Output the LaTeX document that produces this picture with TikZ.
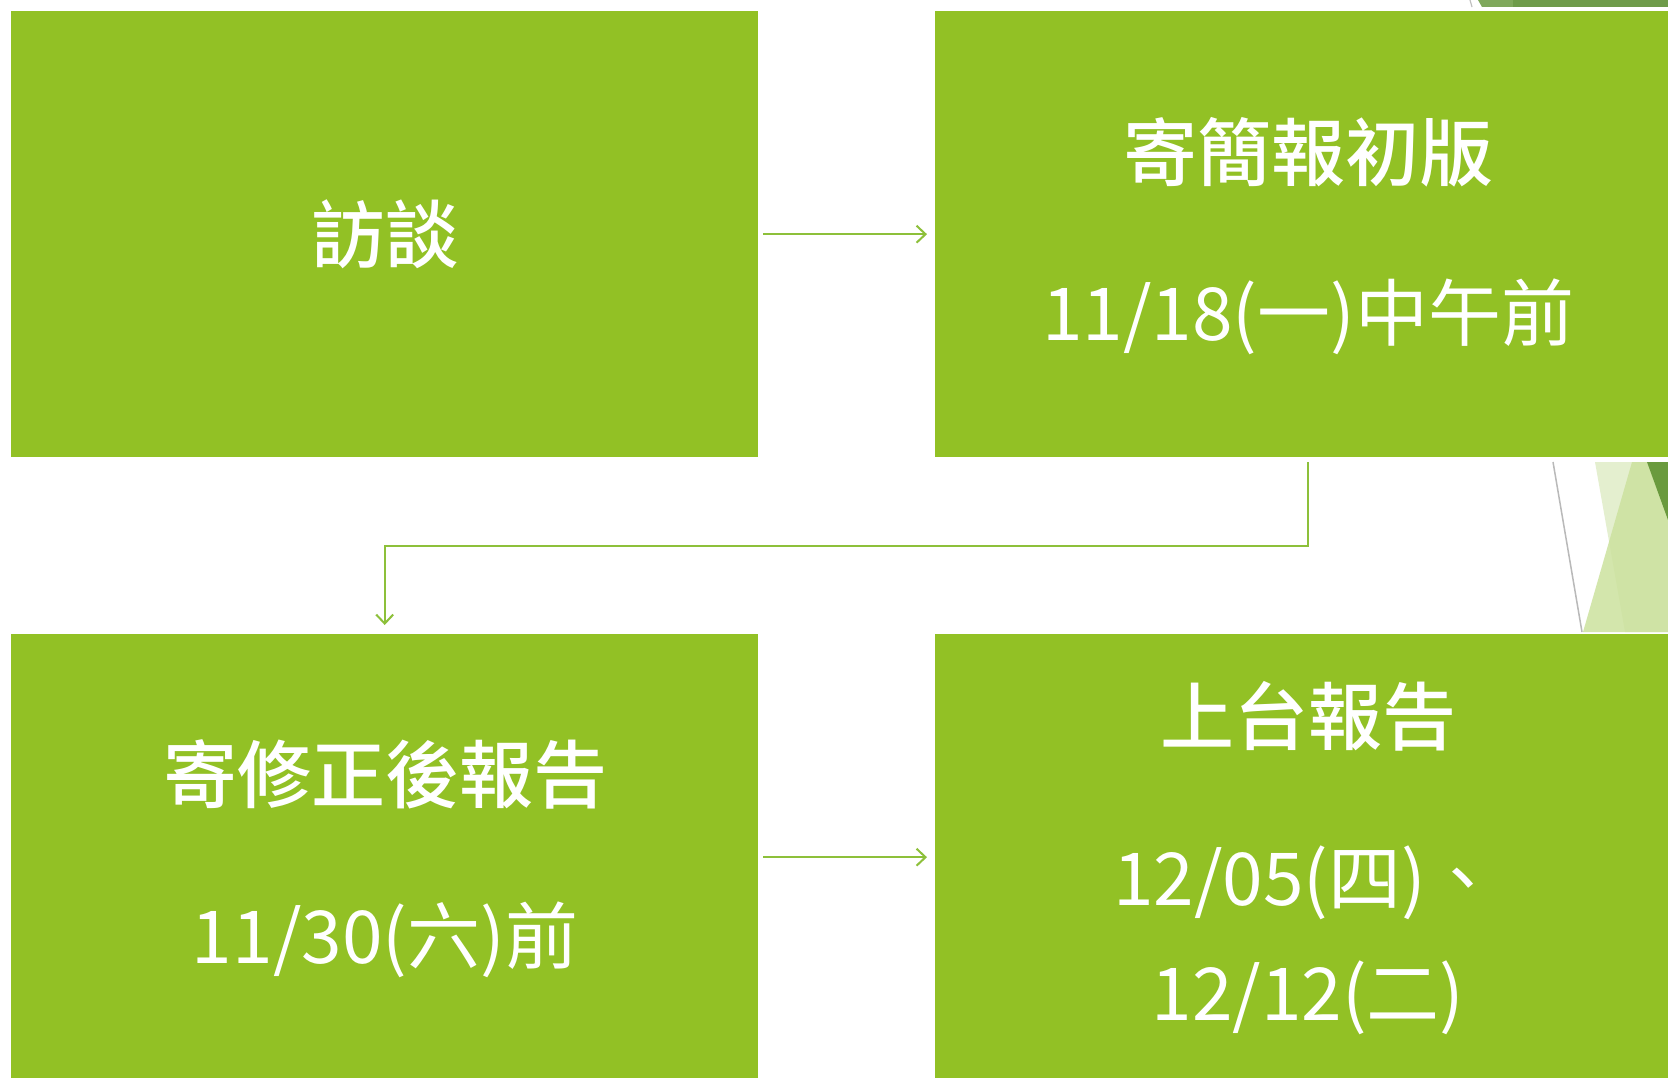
\documentclass[tikz,border=0pt]{standalone}
\usepackage{fontspec}
\setmainfont{Noto Sans CJK TC}
\newfontfamily\titlefont{Noto Sans CJK TC Medium}
\usetikzlibrary{arrows.meta,calc}
\definecolor{boxgreen}{HTML}{92C125}
\definecolor{linegreen}{HTML}{8DC03A}
\definecolor{darkgreen}{HTML}{6E9B4A}
\definecolor{midgreen}{HTML}{7FA85C}
\definecolor{palegreen}{HTML}{E4EFCF}
\definecolor{lightgreen}{HTML}{CCE29E}
\definecolor{deepgreen}{HTML}{6A9A3E}
\tikzset{
  x=1pt, y=1pt,
  box/.style={fill=boxgreen, draw=none, inner sep=0pt, anchor=north west},
  title/.style={text=white, font=\fontsize{74}{88}\titlefont, inner sep=0pt},
  sub/.style={text=white, font=\fontsize{73}{86}\selectfont, inner sep=0pt},
  conn/.style={draw=linegreen, line width=2pt, -{Straight Barb[length=9pt,width=17pt,line width=2pt]}},
}
\begin{document}
\begin{tikzpicture}
\useasboundingbox (0,0) rectangle (1668,-1078);
\clip (0,0) rectangle (1668,-1078);
\fill[white] (0,0) rectangle (1668,-1078);
% decoration
\fill[midgreen] (1478,0) -- (1668,0) -- (1668,-7) -- (1482,-7) -- cycle;
\fill[darkgreen] (1513,0) -- (1668,0) -- (1668,-7) -- (1513,-7) -- cycle;
\draw[gray!50, line width=1.2pt] (1470,0) -- (1472,-7);
\fill[palegreen] (1595,-462) -- (1668,-462) -- (1668,-632) -- (1625,-632) -- cycle;
\fill[lightgreen, opacity=0.85] (1632,-462) -- (1668,-462) -- (1668,-632) -- (1583,-632) -- cycle;
\fill[deepgreen] (1647,-462) -- (1668,-462) -- (1668,-520) -- cycle;
\draw[gray!55, line width=1.5pt] (1553,-462) -- (1582,-632);
% boxes
\node[box, minimum width=747, minimum height=446] (b1) at (11,-11) {};
\node[box, minimum width=746, minimum height=446] (b2) at (935,-11) {};
\node[box, minimum width=747, minimum height=446] (b3) at (11,-634) {};
\node[box, minimum width=746, minimum height=446] (b4) at (935,-634) {};
% texts
\node[title] (t1) at (385,-234) {訪談};
\node[title] (t2) at (1308,-152) {寄簡報初版};
\node[sub] (s2) at (1308,-317) {11/18(一)中午前};
\node[title] (t3) at (385,-774) {寄修正後報告};
\node[sub] (s3) at (385,-940) {11/30(六)前};
\node[title] (t4) at (1308,-716) {上台報告};
\node[sub] (s4a) at (1306,-883) {12/05(四)、};
\node[sub] (s4b) at (1308,-998) {12/12(二)};
% connectors
\coordinate (elb) at (0,-546);
\draw[conn] ([xshift=5pt]b1.east) -- ([xshift=-8pt]b2.west);
\draw[conn] ([xshift=5pt]b3.east) -- ([xshift=-8pt]b4.west);
\draw[conn] ([yshift=-5pt]b2.south) -- (b2.south |- elb) -| ([yshift=9pt]b3.north);
\end{tikzpicture}
\end{document}
